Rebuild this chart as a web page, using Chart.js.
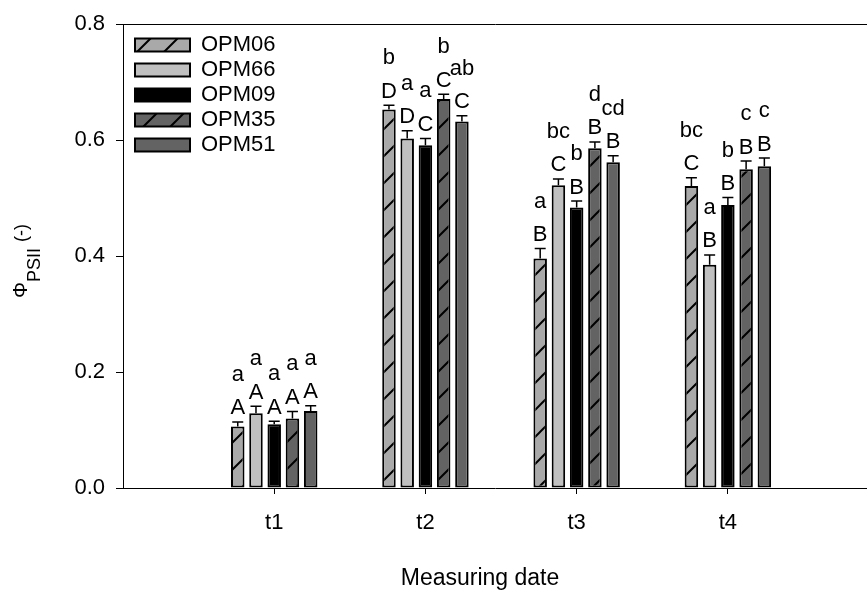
<!DOCTYPE html>
<html><head><meta charset="utf-8">
<script src="https://cdn.jsdelivr.net/npm/chart.js@4/dist/chart.umd.min.js"></script>
<style>html,body{margin:0;padding:0;background:#fff;overflow:hidden}#wrap{width:867px;height:599px;position:relative}</style>
</head><body><div id="wrap"><canvas id="c"></canvas></div>
<script>
// ---- data ----
const categories = ['t1', 't2', 't3', 't4'];
const categoryPositions = [1, 2, 3, 4];
const seriesNames = ['OPM06', 'OPM66', 'OPM09', 'OPM35', 'OPM51'];
const OPM06 = [0.106, 0.653, 0.396, 0.521];
const OPM66 = [0.129, 0.603, 0.522, 0.385];
const OPM09 = [0.110, 0.591, 0.484, 0.488];
const OPM35 = [0.120, 0.671, 0.586, 0.550];
const OPM51 = [0.133, 0.632, 0.562, 0.555];
const OPM06_err = [0.008, 0.007, 0.017, 0.014];
const OPM66_err = [0.012, 0.013, 0.011, 0.017];
const OPM09_err = [0.005, 0.012, 0.011, 0.013];
const OPM35_err = [0.012, 0.008, 0.011, 0.014];
const OPM51_err = [0.009, 0.010, 0.011, 0.014];
const OPM06_upper = ['A', 'D', 'B', 'C'];
const OPM66_upper = ['A', 'D', 'C', 'B'];
const OPM09_upper = ['A', 'C', 'B', 'B'];
const OPM35_upper = ['A', 'C', 'B', 'B'];
const OPM51_upper = ['A', 'C', 'B', 'B'];
const OPM06_lower = ['a', 'b', 'a', 'bc'];
const OPM66_lower = ['a', 'a', 'bc', 'a'];
const OPM09_lower = ['a', 'a', 'b', 'b'];
const OPM35_lower = ['a', 'b', 'd', 'c'];
const OPM51_lower = ['a', 'ab', 'cd', 'c'];
const yTicks = [0.0, 0.2, 0.4, 0.6, 0.8];
const xTitle = 'Measuring date';

const seriesValues = [OPM06, OPM66, OPM09, OPM35, OPM51];
const seriesErrors = [OPM06_err, OPM66_err, OPM09_err, OPM35_err, OPM51_err];
const seriesUpper = [OPM06_upper, OPM66_upper, OPM09_upper, OPM35_upper, OPM51_upper];
const seriesLower = [OPM06_lower, OPM66_lower, OPM09_lower, OPM35_lower, OPM51_lower];

// ---- styles ----
const FONT = "'Liberation Sans', Arial, sans-serif";
Chart.defaults.font.family = FONT;
Chart.defaults.color = '#000';

function hatch(bg) {
  const s = 27;
  const c = document.createElement('canvas');
  c.width = s; c.height = s;
  const g = c.getContext('2d');
  g.fillStyle = bg; g.fillRect(0, 0, s, s);
  g.strokeStyle = '#000'; g.lineWidth = 2;
  g.beginPath();
  g.moveTo(-3, s + 3); g.lineTo(s + 3, -3);
  g.moveTo(-3, 3); g.lineTo(3, -3);
  g.moveTo(s - 3, s + 3); g.lineTo(s + 3, s - 3);
  g.stroke();
  return g.createPattern(c, 'repeat');
}
const fills = [hatch('#a9a9a9'), '#c0c0c0', '#000000', hatch('#636363'), '#636363'];

const datasets = seriesNames.map((name, i) => ({
  label: name,
  data: categoryPositions.map((p, j) => ({ x: p, y: seriesValues[i][j] })),
  backgroundColor: fills[i],
  borderColor: '#000',
  borderWidth: 2,
  borderSkipped: false,
  categoryPercentage: 0.603,
  barPercentage: 0.74
}));

const XMAX = 4.92;

const errorAndLetters = {
  id: 'errorAndLetters',
  afterDatasetsDraw(chart) {
    const ctx = chart.ctx;
    const y = chart.scales.y;
    ctx.save();
    ctx.strokeStyle = '#000';
    ctx.lineWidth = 1.5;
    ctx.fillStyle = '#000';
    ctx.font = '22px ' + FONT;
    ctx.textAlign = 'center';
    ctx.textBaseline = 'alphabetic';
    seriesNames.forEach((n, i) => {
      const meta = chart.getDatasetMeta(i);
      meta.data.forEach((el, j) => {
        const v = seriesValues[i][j], e = seriesErrors[i][j];
        const top = y.getPixelForValue(v);
        const cap = y.getPixelForValue(v + e);
        ctx.beginPath();
        ctx.moveTo(el.x, top); ctx.lineTo(el.x, cap);
        ctx.moveTo(el.x - 5.5, cap); ctx.lineTo(el.x + 5.5, cap);
        ctx.stroke();
        const ub = cap - 7.5;
        ctx.fillText(seriesUpper[i][j], el.x, ub);
        ctx.fillText(seriesLower[i][j], el.x, ub - 33.5);
      });
    });
    ctx.restore();
  }
};

const axisTitles = {
  id: 'axisTitles',
  afterDraw(chart) {
    const ctx = chart.ctx;
    ctx.save();
    ctx.fillStyle = '#000';
    // x title
    ctx.font = '23px ' + FONT;
    ctx.textAlign = 'center';
    ctx.textBaseline = 'middle';
    ctx.fillText(xTitle, 480, 579);
    // y title with subscript
    ctx.translate(27, 298);
    ctx.rotate(-Math.PI / 2);
    ctx.textAlign = 'left';
    ctx.textBaseline = 'alphabetic';
    ctx.font = '20px ' + FONT;
    ctx.fillText('Φ', 0, 0);
    let x = ctx.measureText('Φ').width;
    ctx.font = '18px ' + FONT;
    ctx.fillText('PSII', x, 13);
    x += ctx.measureText('PSII').width + 6;
    ctx.font = '18px ' + FONT;
    ctx.fillText('(-)', x, 0);
    ctx.restore();
  }
};

const legendShift = {
  id: 'legendShift',
  afterLayout(chart) {
    const l = chart.legend;
    if (l) { l.left += 9; l.right += 9; l.top += 31; l.bottom += 31; }
  }
};

new Chart(document.getElementById('c'), {
  type: 'bar',
  data: { datasets },
  options: {
    responsive: true,
    maintainAspectRatio: false,
    animation: false,
    layout: { padding: { left: 0, right: 0, top: 0, bottom: 0 } },
    plugins: {
      tooltip: { enabled: false },
      legend: {
        position: 'chartArea',
        align: 'start',
        labels: {
          boxWidth: 55, boxHeight: 13, padding: 3,
          font: { size: 22, family: FONT }, color: '#000'
        }
      }
    },
    scales: {
      x: {
        type: 'linear', min: 0, max: XMAX, offset: false,
        position: 'bottom',
        afterBuildTicks(s) { s.ticks = categoryPositions.map(v => ({ value: v })); },
        afterFit(s) { s.height = 111; },
        ticks: {
          callback: (v) => categories[categoryPositions.indexOf(v)],
          font: { size: 22, family: FONT }, color: '#000', padding: 16,
          maxRotation: 0, autoSkip: false
        },
        grid: { display: true, drawOnChartArea: false, drawTicks: true, tickLength: 6, color: '#000', offset: false },
        border: { display: true, color: '#000', width: 1 },
        title: { display: false }
      },
      x2: {
        type: 'linear', min: 0, max: XMAX, position: 'top', offset: false,
        afterFit(s) { s.height = 16; },
        ticks: { display: false },
        grid: { display: false, drawTicks: false },
        border: { display: true, color: '#000', width: 1 }
      },
      y: {
        min: 0, max: 0.8,
        afterBuildTicks(s) { s.ticks = yTicks.map(v => ({ value: v })); },
        afterFit(s) { s.width = 123; },
        ticks: {
          callback: (v) => Number(v).toFixed(1),
          font: { size: 22, family: FONT }, color: '#000', padding: 11
        },
        grid: { display: true, drawOnChartArea: false, drawTicks: true, tickLength: 7, color: '#000' },
        border: { display: true, color: '#000', width: 1 }
      }
    }
  },
  plugins: [errorAndLetters, axisTitles, legendShift]
});
</script>
</body></html>
